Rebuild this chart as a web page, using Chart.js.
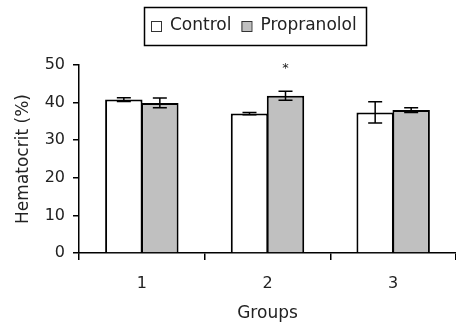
<!DOCTYPE html>
<html>
<head>
<meta charset="utf-8">
<script src="https://cdn.jsdelivr.net/npm/chart.js@4.4.1/dist/chart.umd.min.js"></script>
<style>
  html, body { margin: 0; padding: 0; background: #fff; }
  #wrap { width: 456px; height: 322px; }
</style>
</head>
<body>
<div id="wrap"><canvas id="chart" width="456" height="322"></canvas></div>
<script>
// values
const groups = ['1', '2', '3'];
const seriesNames = ['Control', 'Propranolol'];
const control = [40.8, 37.1, 37.4];
const controlErr = [0.5, 0.3, 2.8];
const propranolol = [39.9, 41.8, 38.0];
const propranololErr = [1.3, 1.2, 0.6];
const marks = ['', '*', ''];   // significance over propranolol bars
const yTicks = [0, 10, 20, 30, 40, 50];

const FONT = 'DejaVu Sans';
const errors = [controlErr, propranololErr];

// error bars + asterisk
const errorBars = {
    id: 'errorBars',
    afterDatasetsDraw(chart) {
        const ctx = chart.ctx;
        const y = chart.scales.y;
        ctx.save();
        ctx.strokeStyle = '#000';
        ctx.lineWidth = 1.5;
        chart.data.datasets.forEach((ds, i) => {
            chart.getDatasetMeta(i).data.forEach((bar, j) => {
                const v = ds.data[j], e = errors[i][j];
                const yt = y.getPixelForValue(v + e), yb = y.getPixelForValue(v - e);
                ctx.beginPath();
                ctx.moveTo(bar.x, yt); ctx.lineTo(bar.x, yb);
                ctx.moveTo(bar.x - 7, yt); ctx.lineTo(bar.x + 7, yt);
                ctx.moveTo(bar.x - 7, yb); ctx.lineTo(bar.x + 7, yb);
                ctx.stroke();
            });
        });
        ctx.fillStyle = '#222';
        ctx.font = '13px ' + FONT;
        ctx.textAlign = 'center';
        chart.getDatasetMeta(1).data.forEach((bar, j) => {
            if (!marks[j]) return;
            const yt = y.getPixelForValue(propranolol[j] + propranololErr[j]);
            ctx.fillText(marks[j], bar.x, yt - 19);
        });
        ctx.restore();
    }
};

// boxed legend like the original
const boxLegend = {
    id: 'boxLegend',
    afterDraw(chart) {
        const ctx = chart.ctx;
        ctx.save();
        ctx.strokeStyle = '#000';
        ctx.lineWidth = 1.5;
        ctx.strokeRect(144.5, 7.5, 222, 38);
        ctx.font = '17px ' + FONT;
        ctx.textBaseline = 'middle';
        ctx.fillStyle = '#222';
        let x = 151;
        chart.data.datasets.forEach((ds) => {
            ctx.fillStyle = ds.backgroundColor;
            ctx.fillRect(x, 21, 10, 10);
            ctx.lineWidth = 1;
            ctx.strokeStyle = '#333';
            ctx.strokeRect(x + 0.5, 21.5, 10, 10);
            ctx.fillStyle = '#222';
            ctx.fillText(ds.label, x + 19, 26);
            x += 19 + ctx.measureText(ds.label).width + 10;
        });
        ctx.restore();
    }
};

const ctx = document.getElementById('chart').getContext('2d');
new Chart(ctx, {
    type: 'bar',
    data: {
        labels: groups,
        datasets: [
            { label: seriesNames[0], data: control, backgroundColor: '#ffffff', borderColor: '#000', borderWidth: 2 },
            { label: seriesNames[1], data: propranolol, backgroundColor: '#c0c0c0', borderColor: '#000', borderWidth: 2 }
        ]
    },
    options: {
        responsive: false,
        animation: false,
        layout: { padding: { top: 65, right: 0, left: 0, bottom: 0 } },
        categoryPercentage: 0.573,
        barPercentage: 1.04,
        plugins: {
            legend: { display: false },
            tooltip: { enabled: false }
        },
        scales: {
            x: {
                grid: { display: true, drawOnChartArea: false, offset: true, color: '#000', lineWidth: 1.5, tickLength: 7 },
                border: { color: '#000', width: 1.5 },
                ticks: { color: '#222', font: { family: FONT, size: 16 }, padding: 14 },
                title: { display: true, text: 'Groups', color: '#222', font: { family: FONT, size: 17 }, padding: { top: 4, bottom: -2 } },
                afterFit(scale) { scale.height = 69; }
            },
            y: {
                min: 0, max: 50,
                afterBuildTicks(scale) { scale.ticks = yTicks.map(v => ({ value: v })); },
                grid: { display: true, drawOnChartArea: false, color: '#000', lineWidth: 1.5, tickLength: 6 },
                border: { color: '#000', width: 1.5 },
                ticks: { color: '#222', font: { family: FONT, size: 16 }, padding: 8 },
                title: { display: true, text: 'Hematocrit (%)', color: '#222', font: { family: FONT, size: 17 }, padding: { top: 13, bottom: 14 } },
                afterFit(scale) { scale.width = 79; }
            }
        }
    },
    plugins: [errorBars, boxLegend]
});
</script>
</body>
</html>
